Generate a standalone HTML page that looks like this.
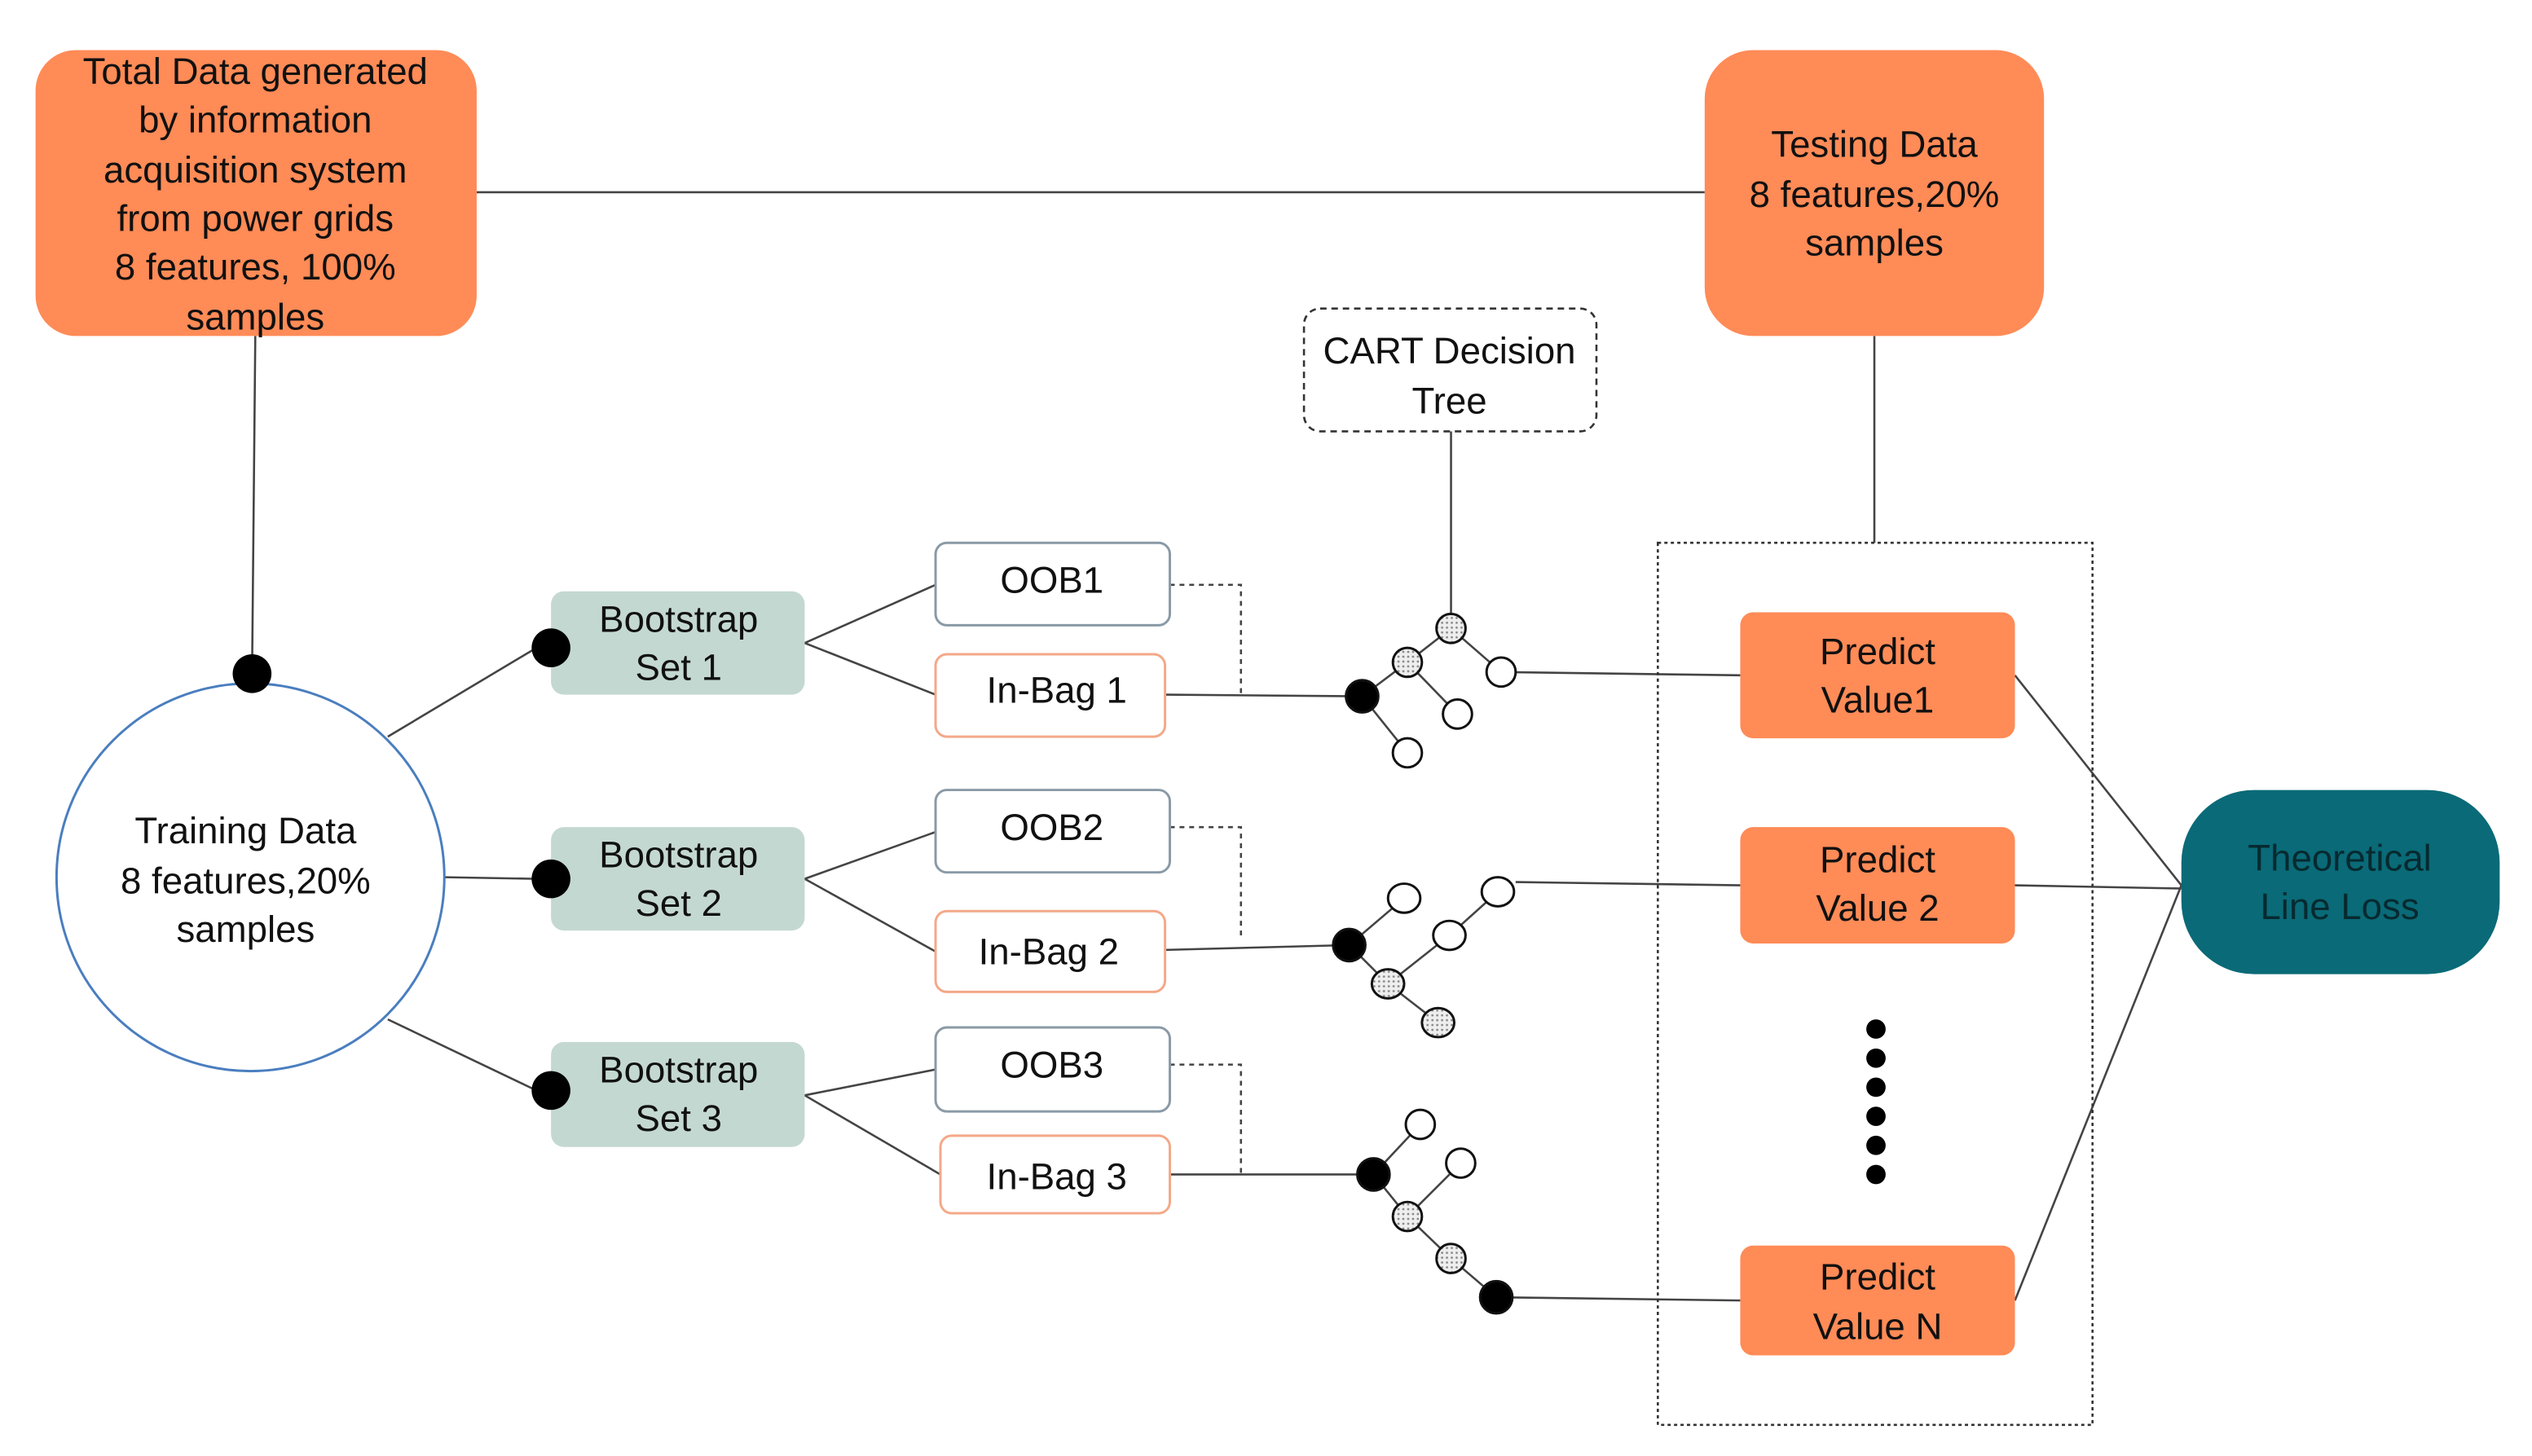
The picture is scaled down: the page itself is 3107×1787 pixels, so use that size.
<!DOCTYPE html>
<html><head><meta charset="utf-8"><style>
html,body{margin:0;padding:0;background:#fff;}
svg{display:block;}
text{font-family:"Liberation Sans",Arial,sans-serif;font-size:23px;fill:#111;text-anchor:middle;}
</style></head><body>
<svg width="3107" height="1787" viewBox="0 0 1567 901" preserveAspectRatio="xMinYMin meet" xmlns="http://www.w3.org/2000/svg">
<defs>
<pattern id="dt" width="3" height="3" patternUnits="userSpaceOnUse">
<rect width="3" height="3" fill="#eee"/><circle cx="1.5" cy="1.5" r="0.7" fill="#888"/>
</pattern>
</defs>
<g stroke="#444" stroke-width="1.3" fill="none">
<line x1="295" y1="119" x2="1055" y2="119"/>
<line x1="158" y1="208" x2="156" y2="417"/>
<line x1="240" y1="456" x2="332" y2="401"/>
<line x1="275" y1="543" x2="332" y2="544"/>
<line x1="240" y1="631" x2="332" y2="675"/>
<line x1="498" y1="398" x2="579" y2="362"/><line x1="498" y1="398" x2="579" y2="430"/>
<line x1="498" y1="544" x2="579" y2="515"/><line x1="498" y1="544" x2="579" y2="589"/>
<line x1="498" y1="678" x2="579" y2="662"/><line x1="498" y1="678" x2="582" y2="727"/>
<polyline points="724,362 768,362 768,430" stroke-dasharray="3,3"/>
<polyline points="724,512 768,512 768,580" stroke-dasharray="3,3"/>
<polyline points="724,659 768,659 768,727" stroke-dasharray="3,3"/>
<line x1="721" y1="430" x2="843" y2="431"/>
<line x1="721" y1="588" x2="835" y2="585"/>
<line x1="724" y1="727" x2="850" y2="727"/>
<line x1="898" y1="267" x2="898" y2="389"/>
<line x1="929" y1="416" x2="1077" y2="418"/>
<line x1="938" y1="546" x2="1077" y2="548"/>
<line x1="926" y1="803" x2="1077" y2="805"/>
<line x1="1160" y1="208" x2="1160" y2="336"/>
<line x1="1247" y1="418" x2="1350" y2="548"/>
<line x1="1247" y1="548" x2="1350" y2="550"/>
<line x1="1247" y1="805" x2="1350" y2="548"/>
<polyline points="871,466 843,431 871,410 898,389 929,416"/><line x1="871" y1="410" x2="902" y2="442"/>
<polyline points="869,556 835,585 859,609 897,579 927,552"/><line x1="859" y1="609" x2="890" y2="633"/>
<polyline points="879,696 850,727 871,753 904,720"/><polyline points="871,753 898,779 926,803"/>
</g>
<rect x="22" y="31" width="273" height="177" rx="25" fill="#FF8B57"/>
<text x="158" y="52">Total Data generated</text><text x="158" y="82">by information</text><text x="158" y="113">acquisition system</text><text x="158" y="143">from power grids</text><text x="158" y="173">8 features, 100%</text><text x="158" y="204">samples</text>
<rect x="1055" y="31" width="210" height="177" rx="30" fill="#FF8B57"/>
<text x="1160" y="97">Testing Data</text><text x="1160" y="128">8 features,20%</text><text x="1160" y="158">samples</text>
<rect x="807" y="191" width="181" height="76" rx="10" fill="#fff" stroke="#333" stroke-width="1.3" stroke-dasharray="4,3"/>
<text x="897" y="225">CART Decision</text><text x="897" y="256">Tree</text>
<circle cx="155" cy="543" r="120" fill="#fff" stroke="#4a7ebf" stroke-width="1.5"/>
<text x="152" y="522">Training Data</text><text x="152" y="553">8 features,20%</text><text x="152" y="583">samples</text>
<circle cx="156" cy="417" r="12" fill="#000"/>
<g fill="#C4D8D2">
<rect x="341" y="366" width="157" height="64" rx="8"/><rect x="341" y="512" width="157" height="64" rx="8"/><rect x="341" y="645" width="157" height="65" rx="8"/>
</g>
<text x="420" y="391">Bootstrap</text><text x="420" y="421">Set 1</text>
<text x="420" y="537">Bootstrap</text><text x="420" y="567">Set 2</text>
<text x="420" y="670">Bootstrap</text><text x="420" y="700">Set 3</text>
<circle cx="341" cy="401" r="12" fill="#000"/><circle cx="341" cy="544" r="12" fill="#000"/><circle cx="341" cy="675" r="12" fill="#000"/>
<g fill="#fff" stroke-width="1.5">
<rect x="579" y="336" width="145" height="51" rx="7" stroke="#8a9aa6"/>
<rect x="579" y="489" width="145" height="51" rx="7" stroke="#8a9aa6"/>
<rect x="579" y="636" width="145" height="52" rx="7" stroke="#8a9aa6"/>
<rect x="579" y="405" width="142" height="51" rx="7" stroke="#F4A888"/>
<rect x="579" y="564" width="142" height="50" rx="7" stroke="#F4A888"/>
<rect x="582" y="703" width="142" height="48" rx="7" stroke="#F4A888"/>
</g>
<text x="651" y="367">OOB1</text><text x="651" y="520">OOB2</text><text x="651" y="667">OOB3</text>
<text x="654" y="435">In-Bag 1</text><text x="649" y="597">In-Bag 2</text><text x="654" y="736">In-Bag 3</text>
<g stroke="#111" stroke-width="1.5">
<circle cx="843" cy="431" r="10" fill="#000"/><circle cx="871" cy="410" r="9" fill="url(#dt)"/><circle cx="898" cy="389" r="9" fill="url(#dt)"/>
<circle cx="929" cy="416" r="9" fill="#fff"/><circle cx="902" cy="442" r="9" fill="#fff"/><circle cx="871" cy="466" r="9" fill="#fff"/>
<circle cx="835" cy="585" r="10" fill="#000"/><ellipse cx="869" cy="556" rx="10" ry="9" fill="#fff"/><ellipse cx="859" cy="609" rx="10" ry="9" fill="url(#dt)"/>
<ellipse cx="897" cy="579" rx="10" ry="9" fill="#fff"/><ellipse cx="927" cy="552" rx="10" ry="9" fill="#fff"/><ellipse cx="890" cy="633" rx="10" ry="9" fill="url(#dt)"/>
<circle cx="850" cy="727" r="10" fill="#000"/><circle cx="879" cy="696" r="9" fill="#fff"/><circle cx="871" cy="753" r="9" fill="url(#dt)"/>
<circle cx="904" cy="720" r="9" fill="#fff"/><circle cx="898" cy="779" r="9" fill="url(#dt)"/><circle cx="926" cy="803" r="10" fill="#000"/>
</g>
<rect x="1026" y="336" width="269" height="546" fill="none" stroke="#333" stroke-width="1.3" stroke-dasharray="2,2"/>
<g fill="#FF8B57">
<rect x="1077" y="379" width="170" height="78" rx="8"/><rect x="1077" y="512" width="170" height="72" rx="8"/><rect x="1077" y="771" width="170" height="68" rx="8"/>
</g>
<text x="1162" y="411">Predict</text><text x="1162" y="441">Value1</text>
<text x="1162" y="540">Predict</text><text x="1162" y="570">Value 2</text>
<text x="1162" y="798">Predict</text><text x="1162" y="829">Value N</text>
<g fill="#000"><circle cx="1161" cy="637" r="6"/><circle cx="1161" cy="655" r="6"/><circle cx="1161" cy="673" r="6"/><circle cx="1161" cy="691" r="6"/><circle cx="1161" cy="709" r="6"/><circle cx="1161" cy="727" r="6"/></g>
<rect x="1350" y="489" width="197" height="114" rx="45" fill="#0A6A77"/>
<text x="1448" y="539" style="fill:#062a30">Theoretical</text><text x="1448" y="569" style="fill:#062a30">Line Loss</text>
</svg>
</body></html>
